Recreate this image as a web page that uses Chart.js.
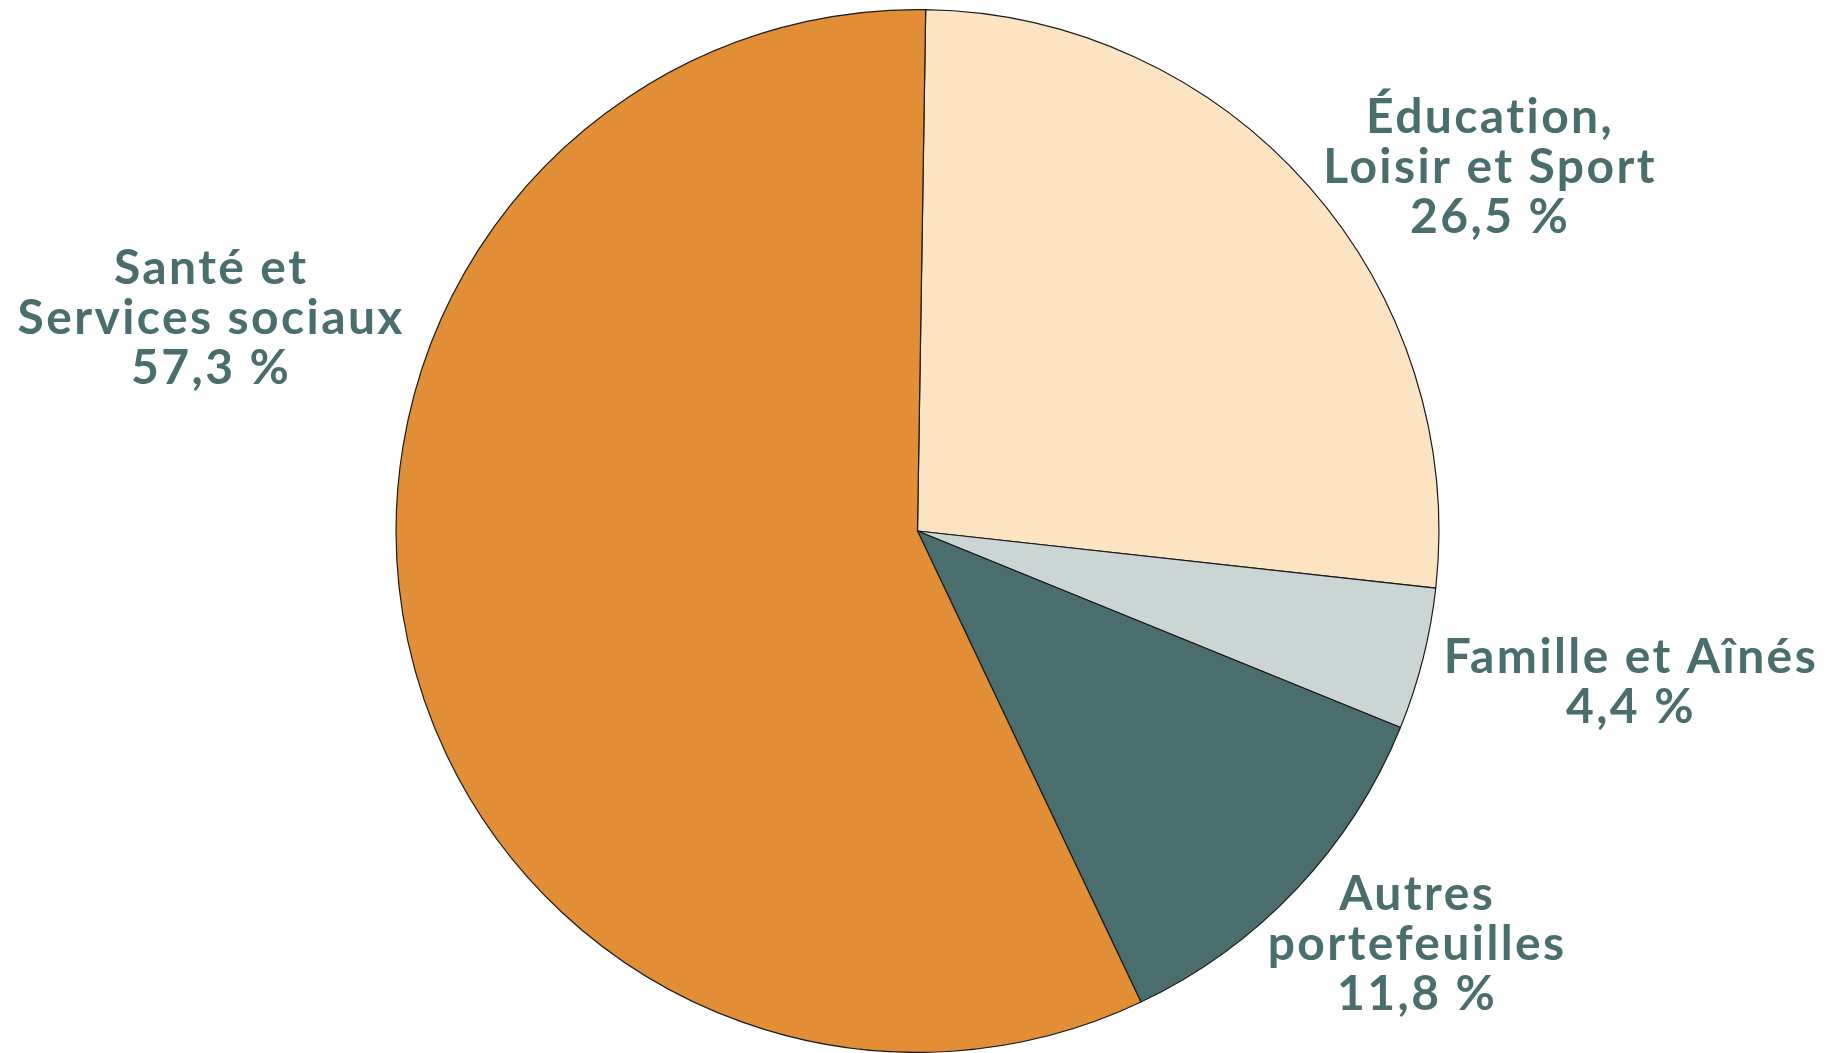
<!DOCTYPE html>
<html lang="fr">
<head>
<meta charset="utf-8">
<title>Répartition par portefeuille</title>
<script src="https://cdn.jsdelivr.net/npm/chart.js@4/dist/chart.umd.min.js"></script>
<style>
    html, body { margin: 0; padding: 0; background: #ffffff; }
    #wrap { width: 1835px; height: 1053px; position: relative; }
</style>
</head>
<body>
<div id="wrap"><canvas id="pie"></canvas></div>
<script>
// Data
const categories = [
    ['Éducation,', 'Loisir et Sport'],
    ['Famille et Aînés'],
    ['Autres', 'portefeuilles'],
    ['Santé et', 'Services sociaux']
];
const shares = [26.5, 4.4, 11.8, 57.3];
const sliceColors = ['#FCE4C3', '#CBD5D4', '#4A6E6D', '#E18E36'];

// Label anchor for each slice, relative to pie centre, in units of radius
const labelAnchors = [
    { x: 1.096, y: -0.763 },
    { x: 1.366, y: 0.273 },
    { x: 0.956, y: 0.726 },
    { x: -1.357, y: -0.473 }
];

const TEXT_COLOR = '#4A6E6E';
const FONT = 'bold 48px Lato, "Open Sans", sans-serif';
const LINE_HEIGHT = 50;

function pct(v) {
    return v.toFixed(1).replace('.', ',') + ' %';
}

// Draws the outside labels next to each slice
const outsideLabels = {
    id: 'outsideLabels',
    afterDraw(chart) {
        const meta = chart.getDatasetMeta(0);
        const ctx = chart.ctx;
        ctx.save();
        ctx.font = FONT;
        ctx.letterSpacing = '2.4px';
        ctx.fillStyle = TEXT_COLOR;
        ctx.textAlign = 'center';
        ctx.textBaseline = 'alphabetic';
        meta.data.forEach((arc, i) => {
            const r = arc.outerRadius;
            const x = arc.x + labelAnchors[i].x * r;
            let y = arc.y + labelAnchors[i].y * r;
            const lines = categories[i].concat([pct(shares[i])]);
            lines.forEach(line => {
                ctx.fillText(line, x + 1.2, y);
                y += LINE_HEIGHT;
            });
        });
        ctx.restore();
    }
};

new Chart(document.getElementById('pie'), {
    type: 'pie',
    data: {
        labels: categories.map(c => c.join(' ')),
        datasets: [{
            data: shares,
            backgroundColor: sliceColors,
            borderColor: '#1a1a1a',
            borderWidth: 1.2
        }]
    },
    options: {
        responsive: true,
        maintainAspectRatio: false,
        animation: false,
        rotation: 0.9,
        layout: { padding: { top: 9, bottom: 0, left: 0, right: 0 } },
        plugins: {
            legend: { display: false },
            tooltip: { enabled: false }
        }
    },
    plugins: [outsideLabels]
});
</script>
</body>
</html>
